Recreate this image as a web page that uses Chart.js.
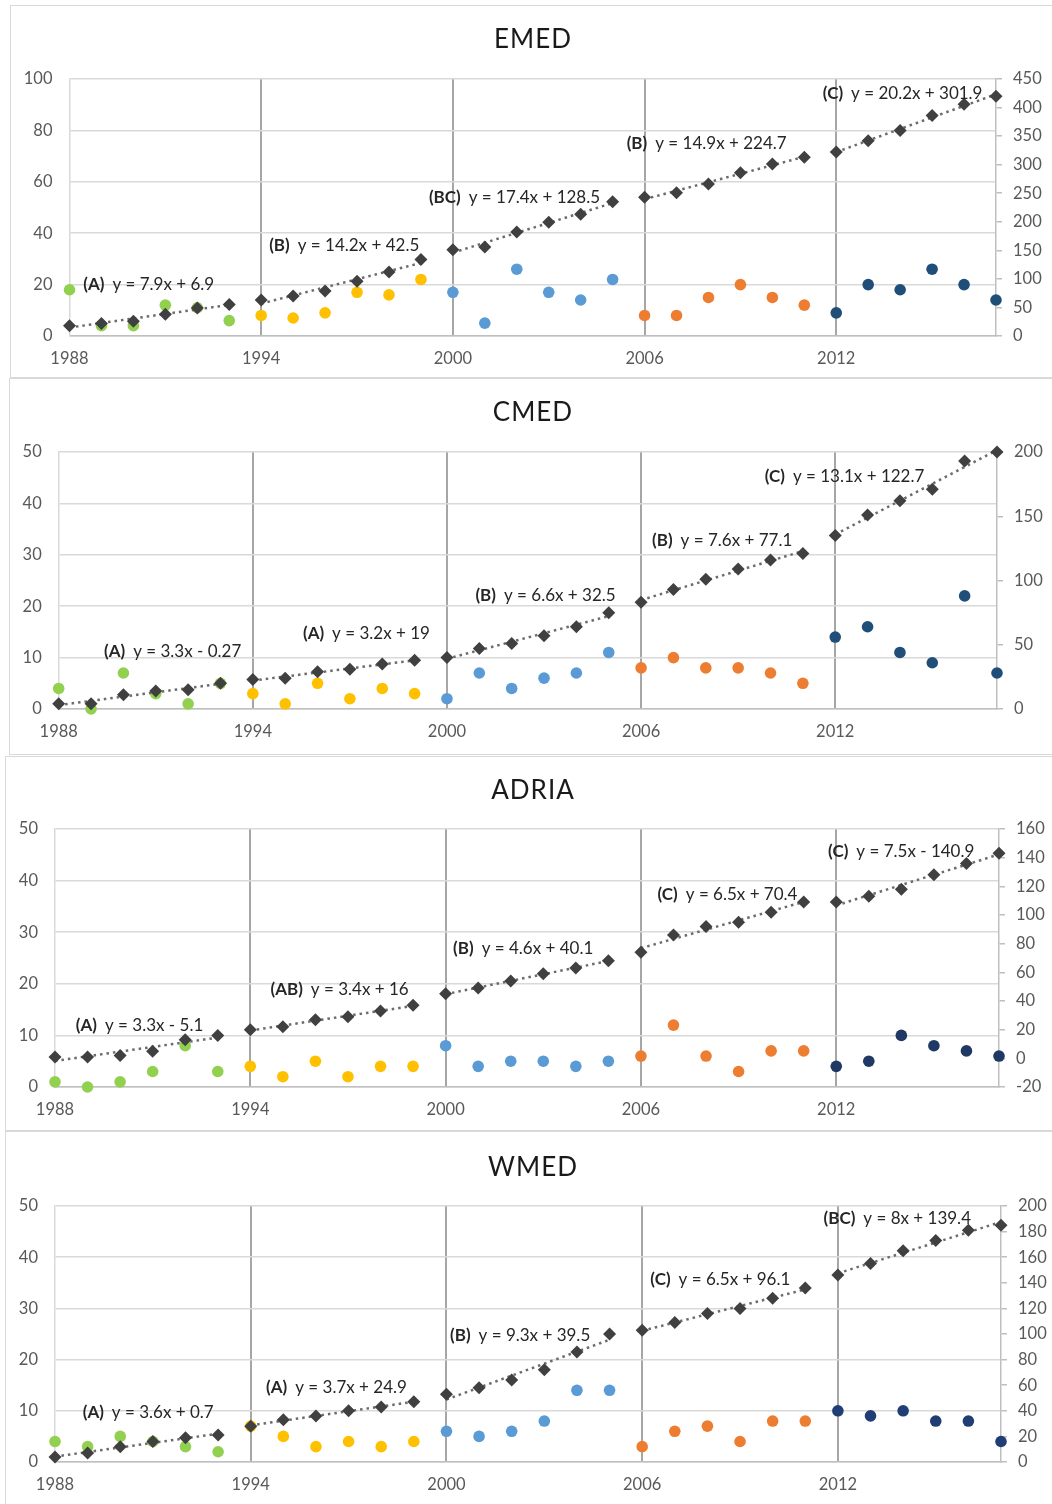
<!DOCTYPE html>
<html>
<head>
<meta charset="utf-8">
<title>EMED / CMED / ADRIA / WMED</title>
<script src="https://cdn.jsdelivr.net/npm/chart.js@4.4.1/dist/chart.umd.min.js"></script>
<style>
  html, body { margin: 0; padding: 0; background: #fff; }
  body { position: relative; width: 1052px; height: 1504px; overflow: hidden; font-family: Lato, sans-serif; }
  .panel { position: absolute; width: 1100px; border: 1.5px solid #D9D9D9; box-sizing: border-box; }
  .chart { position: absolute; left: 0; }
  .title { position: absolute; width: 400px; text-align: center; font-size: 26px; line-height: 30px; color: #1a1a1a; letter-spacing: 1px; }
</style>
</head>
<body>
<script>
// --- DATA ---
const years = [1988, 1989, 1990, 1991, 1992, 1993, 1994, 1995, 1996, 1997, 1998, 1999, 2000, 2001, 2002,
               2003, 2004, 2005, 2006, 2007, 2008, 2009, 2010, 2011, 2012, 2013, 2014, 2015, 2016, 2017];
const xTickYears = [1988, 1994, 2000, 2006, 2012];
const periodLength = 6; // 5 periods of 6 years

const emedCounts     = [18, 4, 4, 12, 11, 6, 8, 7, 9, 17, 16, 22, 17, 5, 26, 17, 14, 22, 8, 8, 15, 20, 15, 12, 9, 20, 18, 26, 20, 14];
const emedCumulative = [18, 22, 26, 38, 49, 55, 63, 70, 79, 96, 112, 134, 151, 156, 182, 199, 213, 235, 243, 251, 266, 286, 301, 313, 322, 342, 360, 386, 406, 420];
const emedTrendTags  = ['(A)', '(B)', '(BC)', '(B)', '(C)'];
const emedTrendEqs   = ['y = 7.9x + 6.9', 'y = 14.2x + 42.5', 'y = 17.4x + 128.5', 'y = 14.9x + 224.7', 'y = 20.2x + 301.9'];

const cmedCounts     = [4, 0, 7, 3, 1, 5, 3, 1, 5, 2, 4, 3, 2, 7, 4, 6, 7, 11, 8, 10, 8, 8, 7, 5, 14, 16, 11, 9, 22, 7];
const cmedCumulative = [4, 4, 11, 14, 15, 20, 23, 24, 29, 31, 35, 38, 40, 47, 51, 57, 64, 75, 83, 93, 101, 109, 116, 121, 135, 151, 162, 171, 193, 200];
const cmedTrendTags  = ['(A)', '(A)', '(B)', '(B)', '(C)'];
const cmedTrendEqs   = ['y = 3.3x - 0.27', 'y = 3.2x + 19', 'y = 6.6x + 32.5', 'y = 7.6x + 77.1', 'y = 13.1x + 122.7'];

const adriaCounts     = [1, 0, 1, 3, 8, 3, 4, 2, 5, 2, 4, 4, 8, 4, 5, 5, 4, 5, 6, 12, 6, 3, 7, 7, 4, 5, 10, 8, 7, 6];
const adriaCumulative = [1, 1, 2, 5, 13, 16, 20, 22, 27, 29, 33, 37, 45, 49, 54, 59, 63, 68, 74, 86, 92, 95, 102, 109, 109, 113, 118, 128, 136, 143];
const adriaTrendTags  = ['(A)', '(AB)', '(B)', '(C)', '(C)'];
const adriaTrendEqs   = ['y = 3.3x - 5.1', 'y = 3.4x + 16', 'y = 4.6x + 40.1', 'y = 6.5x + 70.4', 'y = 7.5x - 140.9'];

const wmedCounts     = [4, 3, 5, 4, 3, 2, 7, 5, 3, 4, 3, 4, 6, 5, 6, 8, 14, 14, 3, 6, 7, 4, 8, 8, 10, 9, 10, 8, 8, 4];
const wmedCumulative = [4, 7, 12, 16, 19, 21, 28, 33, 36, 40, 43, 47, 53, 58, 64, 72, 86, 100, 103, 109, 116, 120, 128, 136, 146, 155, 165, 173, 181, 185];
const wmedTrendTags  = ['(A)', '(A)', '(B)', '(C)', '(BC)'];
const wmedTrendEqs   = ['y = 3.6x + 0.7', 'y = 3.7x + 24.9', 'y = 9.3x + 39.5', 'y = 6.5x + 96.1', 'y = 8x + 139.4'];

// --- LAYOUT (label anchors in axis units: year, right axis value) ---
const emedLabelAt  = [[1988.43, 91], [1994.25, 158], [1999.25, 243], [2005.44, 337], [2011.58, 424]];
const cmedLabelAt  = [[1989.40, 45], [1995.55, 59], [2000.88, 88], [2006.34, 131], [2009.82, 181]];
const adriaLabelAt = [[1988.64, 22.6], [1994.62, 47.8], [2000.23, 76.6], [2006.51, 114.6], [2011.75, 144.1]];
const wmedLabelAt  = [[1988.85, 38.7], [1994.47, 58.2], [2000.11, 98.8], [2006.25, 142.3], [2011.56, 189.9]];

const PAGE_WIDTH = 1052;
const tickFont = { family: 'Lato', size: 16.5 };
const tickColor = '#595959';

const panels = [
  { title: 'EMED', counts: emedCounts, cumulative: emedCumulative, tags: emedTrendTags, eqs: emedTrendEqs, labelAt: emedLabelAt,
    leftAxis: [0, 100, 20], rightAxis: [0, 450, 50], lateColor: '#1F4E79',
    box: { left: 10, top: 5, height: 373 }, plot: { left: 69.5, right: 996, top: 79, bottom: 336 }, titleY: 38 },
  { title: 'CMED', counts: cmedCounts, cumulative: cmedCumulative, tags: cmedTrendTags, eqs: cmedTrendEqs, labelAt: cmedLabelAt,
    leftAxis: [0, 50, 10], rightAxis: [0, 200, 50], lateColor: '#1F4E79',
    box: { left: 9, top: 378, height: 377 }, plot: { left: 58.7, right: 997, top: 452, bottom: 709 }, titleY: 411 },
  { title: 'ADRIA', counts: adriaCounts, cumulative: adriaCumulative, tags: adriaTrendTags, eqs: adriaTrendEqs, labelAt: adriaLabelAt,
    leftAxis: [0, 50, 10], rightAxis: [-20, 160, 20], lateColor: '#1F3864',
    box: { left: 5, top: 756, height: 375 }, plot: { left: 55, right: 999, top: 829, bottom: 1087 }, titleY: 789 },
  { title: 'WMED', counts: wmedCounts, cumulative: wmedCumulative, tags: wmedTrendTags, eqs: wmedTrendEqs, labelAt: wmedLabelAt,
    leftAxis: [0, 50, 10], rightAxis: [0, 200, 20], lateColor: '#203D75',
    box: { left: 5, top: 1131, height: 380 }, plot: { left: 55, right: 1001, top: 1206, bottom: 1462 }, titleY: 1166 }
];

// least squares line through the cumulative points of one period
function fitLine(xs, ys) {
  const n = xs.length;
  const mx = xs.reduce((a, b) => a + b, 0) / n;
  const my = ys.reduce((a, b) => a + b, 0) / n;
  let sxy = 0, sxx = 0;
  for (let i = 0; i < n; i++) {
    sxy += (xs[i] - mx) * (ys[i] - my);
    sxx += (xs[i] - mx) * (xs[i] - mx);
  }
  const slope = sxy / sxx;
  return { slope: slope, intercept: my - slope * mx };
}

// bold tag + regular equation, anchored on x / right axis
const equationLabels = {
  id: 'equationLabels',
  afterDatasetsDraw(chart, args, opts) {
    const ctx = chart.ctx;
    const xs = chart.scales.x, ys = chart.scales.y2;
    ctx.save();
    ctx.fillStyle = '#262626';
    ctx.textBaseline = 'middle';
    ctx.textAlign = 'left';
    opts.tags.forEach((tag, i) => {
      const px = xs.getPixelForValue(opts.labelAt[i][0]);
      const py = ys.getPixelForValue(opts.labelAt[i][1]);
      ctx.font = 'bold 17px Lato';
      ctx.fillText(tag, px, py);
      const w = ctx.measureText(tag).width;
      ctx.font = '17px Lato';
      ctx.fillText(opts.eqs[i], px + w + 8, py);
    });
    ctx.restore();
  }
};

function buildPanel(p) {
  const frame = document.createElement('div');
  frame.className = 'panel';
  frame.style.left = p.box.left + 'px';
  frame.style.top = p.box.top + 'px';
  frame.style.height = p.box.height + 'px';
  document.body.appendChild(frame);

  const canvas = document.createElement('canvas');
  canvas.className = 'chart';
  canvas.width = PAGE_WIDTH;
  canvas.height = p.box.height;
  canvas.style.top = p.box.top + 'px';
  document.body.appendChild(canvas);

  const title = document.createElement('div');
  title.className = 'title';
  title.textContent = p.title;
  title.style.left = (533 - 200) + 'px';
  title.style.top = (p.titleY - 15) + 'px';
  document.body.appendChild(title);

  const periodColors = ['#92D050', '#FFC000', '#5B9BD5', '#ED7D31', p.lateColor];
  const nPeriods = years.length / periodLength;

  const diamonds = {
    data: years.map((yr, i) => ({ x: yr, y: p.cumulative[i] })),
    yAxisID: 'y2', pointStyle: 'rectRot', pointRadius: 6.5,
    backgroundColor: '#404040', borderColor: '#404040', borderWidth: 0, clip: false
  };

  const trends = [], dots = [];
  for (let k = 0; k < nPeriods; k++) {
    const from = k * periodLength, to = from + periodLength;
    const xs = years.slice(from, to);
    const fit = fitLine(xs, p.cumulative.slice(from, to));
    trends.push({
      data: [xs[0], xs[xs.length - 1]].map(x => ({ x: x, y: fit.intercept + fit.slope * x })),
      yAxisID: 'y2', showLine: true, pointRadius: 0, borderColor: '#6B6B6B',
      borderWidth: 2.5, borderDash: [2.5, 4], clip: false
    });
    dots.push({
      data: xs.map((x, j) => ({ x: x, y: p.counts[from + j] })),
      yAxisID: 'y', pointRadius: 5.8, backgroundColor: periodColors[k],
      borderColor: periodColors[k], borderWidth: 0, clip: false
    });
  }

  const plotTop = p.plot.top - p.box.top;
  const xAxisHeight = p.box.height - (p.plot.bottom - p.box.top);

  new Chart(canvas, {
    type: 'scatter',
    data: { datasets: [diamonds].concat(trends, dots) },
    plugins: [equationLabels],
    options: {
      responsive: false, animation: false, devicePixelRatio: 1,
      layout: { padding: { top: plotTop, left: 0, right: 0, bottom: 0 } },
      plugins: {
        legend: { display: false }, tooltip: { enabled: false }, title: { display: false },
        equationLabels: { tags: p.tags, eqs: p.eqs, labelAt: p.labelAt }
      },
      scales: {
        x: {
          type: 'linear', min: years[0], max: years[years.length - 1],
          afterBuildTicks: s => { s.ticks = xTickYears.map(v => ({ value: v })); },
          afterFit: s => { s.height = xAxisHeight; },
          grid: { color: c => (c.tick && c.tick.value === years[0]) ? 'rgba(0,0,0,0)' : '#A6A6A6', lineWidth: 2, drawTicks: false },
          border: { color: '#BFBFBF', width: 1.5 },
          ticks: { color: tickColor, font: tickFont, padding: 13, maxRotation: 0, autoSkip: false, callback: v => String(v) }
        },
        y: {
          position: 'left', min: p.leftAxis[0], max: p.leftAxis[1],
          afterFit: s => { s.width = p.plot.left; },
          grid: { color: '#D9D9D9', lineWidth: 1.5, drawTicks: false },
          border: { color: '#D9D9D9', width: 1.5 },
          ticks: { stepSize: p.leftAxis[2], color: tickColor, font: tickFont, padding: 17 }
        },
        y2: {
          position: 'right', min: p.rightAxis[0], max: p.rightAxis[1],
          afterFit: s => { s.width = PAGE_WIDTH - p.plot.right; },
          grid: { drawOnChartArea: false, drawTicks: true, tickLength: 6, color: '#BFBFBF', lineWidth: 1.5 },
          border: { color: '#BFBFBF', width: 1.5 },
          ticks: { stepSize: p.rightAxis[2], color: tickColor, font: tickFont, padding: 11 }
        }
      }
    }
  });
}

panels.forEach(buildPanel);
</script>
</body>
</html>
